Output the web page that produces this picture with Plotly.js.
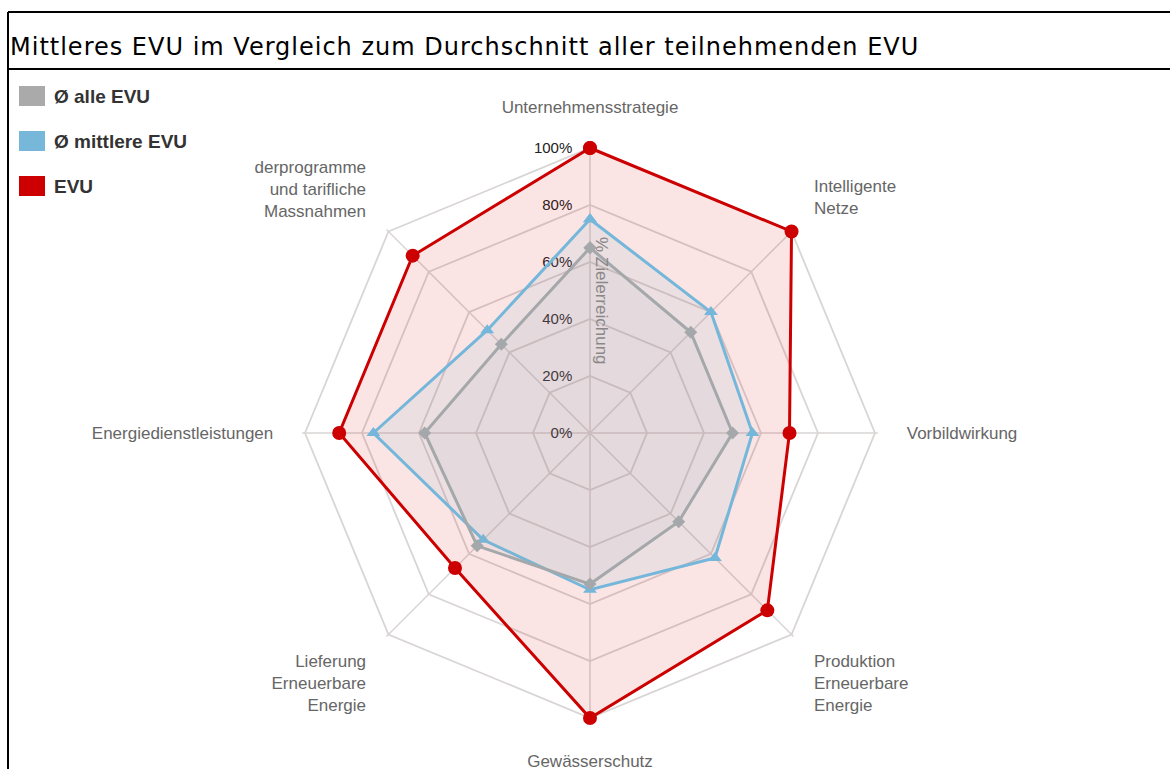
<!DOCTYPE html>
<html>
<head>
<meta charset="utf-8">
<script src="https://cdn.plot.ly/plotly-3.0.1.min.js"></script>
<style>
html,body{margin:0;padding:0;background:#fff;}
#chart{width:1170px;height:769px;}
#chart .gtitle{letter-spacing:1px;}
</style>
</head>
<body>
<div id="chart"></div>
<script>
const categories = [
  "Unternehmensstrategie",
  "Intelligente<br>Netze",
  "Vorbildwirkung",
  "Produktion<br>Erneuerbare<br>Energie",
  "Gewässerschutz",
  "Lieferung<br>Erneuerbare<br>Energie",
  "Energiedienstleistungen",
  "Förderprogramme<br>und tarifliche<br>Massnahmen"
];
const alleEVU     = [65, 50, 50, 44, 53, 56, 58, 44];
const mittlereEVU = [75, 60, 57, 62, 55, 53, 76, 51];
const evu         = [100, 100, 70, 88, 100, 67, 88, 88];
const seriesNames = ["Ø alle EVU", "Ø mittlere EVU", "EVU"];
const radialTicks = [0, 20, 40, 60, 80, 100];
const chartTitle = "Mittleres EVU im Vergleich zum Durchschnitt aller teilnehmenden EVU";
const radialTitle = "% Zielerreichung";

function closed(a){ return a.concat([a[0]]); }
const thetaClosed = closed(categories);

// drawn bottom-to-top: EVU, mittlere, alle (so every line stays visible above the fills)
const traces = [
  {
    type: "scatterpolar", mode: "lines+markers", name: seriesNames[2],
    r: closed(evu), theta: thetaClosed, fill: "toself", cliponaxis: false,
    fillcolor: "rgba(204,0,0,0.105)",
    line: {color: "#cc0000", width: 3},
    marker: {symbol: "circle", size: 14, color: "#cc0000"},
    showlegend: false, hoverinfo: "r+theta"
  },
  {
    type: "scatterpolar", mode: "lines+markers", name: seriesNames[1],
    r: closed(mittlereEVU), theta: thetaClosed, fill: "toself", cliponaxis: false,
    fillcolor: "rgba(116,183,218,0.1)",
    line: {color: "#74b7da", width: 3},
    marker: {symbol: "triangle-up", size: 12, color: "#74b7da"},
    showlegend: false, hoverinfo: "r+theta"
  },
  {
    type: "scatterpolar", mode: "lines+markers", name: seriesNames[0],
    r: closed(alleEVU), theta: thetaClosed, fill: "toself", cliponaxis: false,
    fillcolor: "rgba(160,164,166,0.1)",
    line: {color: "#a4a8aa", width: 3},
    marker: {symbol: "diamond", size: 10, color: "#a4a8aa"},
    showlegend: false, hoverinfo: "r+theta"
  }
];

const W = 1170, H = 769;
const rMax = 101;                 // a little headroom so lines on the 100% ring are not clipped
const cx = 590, cy = 433, R = 285 * rMax / 100;
const legendColors = ["#aaaaaa", "#77b8da", "#cc0000"];

const shapes = [
  // white panel behind the legend (it clips the long axis label as in the original)
  {type: "rect", xref: "paper", yref: "paper", layer: "above",
   x0: 0, x1: 255/W, y0: 1 - 200/H, y1: 1 - 72/H,
   fillcolor: "#ffffff", line: {width: 0}},
  // frame lines
  {type: "line", xref: "paper", yref: "paper", layer: "above",
   x0: 8/W, x1: 1, y0: 1 - 12/H, y1: 1 - 12/H, line: {color: "#000", width: 2}},
  {type: "line", xref: "paper", yref: "paper", layer: "above",
   x0: 8/W, x1: 1, y0: 1 - 69/H, y1: 1 - 69/H, line: {color: "#000", width: 2}},
  {type: "line", xref: "paper", yref: "paper", layer: "above",
   x0: 8/W, x1: 8/W, y0: 0, y1: 1 - 12/H, line: {color: "#000", width: 2}}
];
const annotations = [];
seriesNames.forEach(function(n, i){
  const yc = 96 + i*45;
  shapes.push({type: "rect", xref: "paper", yref: "paper", layer: "above",
    x0: 19/W, x1: 45/W, y0: 1 - (yc+10)/H, y1: 1 - (yc-10)/H,
    fillcolor: legendColors[i], line: {width: 0}});
  annotations.push({xref: "paper", yref: "paper", x: 52/W, y: 1 - (yc+1)/H,
    xanchor: "left", yanchor: "middle", showarrow: false, text: "<b>" + n + "</b>",
    font: {family: "Liberation Sans, Arial, sans-serif", size: 19, color: "#333"}});
});
annotations.push({xref: "paper", yref: "paper", x: 602/W, y: 1 - 301/H,
  xanchor: "center", yanchor: "middle", showarrow: false, textangle: 90,
  text: radialTitle, font: {family: "Liberation Sans, Arial, sans-serif", size: 17, color: "#888"}});

const layout = {
  width: W, height: H,
  margin: {l: 0, r: 0, t: 0, b: 0},
  paper_bgcolor: "#fff",
  showlegend: false,
  title: {text: chartTitle, xref: "container", yref: "container",
    x: 10/W, xanchor: "left", y: 1 - 47/H, yanchor: "middle",
    font: {family: "DejaVu Sans, sans-serif", size: 24, color: "#000"}},
  polar: {
    domain: {x: [(cx-R)/W, (cx+R)/W], y: [1-(cy+R)/H, 1-(cy-R)/H]},
    bgcolor: "rgba(0,0,0,0)",
    gridshape: "linear",
    angularaxis: {
      rotation: 90, direction: "clockwise", layer: "below traces",
      showline: false,
      gridcolor: "#d9d5d5", gridwidth: 1.5,
      ticks: "outside", ticklen: 25, tickcolor: "rgba(0,0,0,0)",
      tickfont: {family: "Liberation Sans, Arial, sans-serif", size: 17, color: "#666"}
    },
    radialaxis: {
      range: [0, rMax], angle: 90, side: "counterclockwise", layer: "below traces",
      tickvals: radialTicks, ticktext: radialTicks.map(function(v){return v + "%";}),
      showline: false, ticks: "outside", ticklen: 12, tickcolor: "rgba(0,0,0,0)", tickangle: 90,
      gridcolor: "#d9d5d5", gridwidth: 1.8,
      tickfont: {family: "Liberation Sans, Arial, sans-serif", size: 15, color: "#222"}
    }
  },
  shapes: shapes,
  annotations: annotations
};

Plotly.newPlot("chart", traces, layout, {displayModeBar: false, staticPlot: true});
</script>
</body>
</html>
